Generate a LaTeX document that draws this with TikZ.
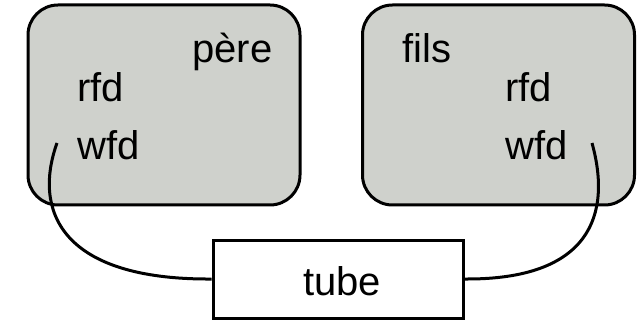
\documentclass[tikz,border=0pt]{standalone}
\usepackage{fontspec}
\setmainfont{Liberation Sans}
\begin{document}
\begin{tikzpicture}[x=1pt,y=-1pt,
  proc/.style={draw=black,line width=3pt,fill=procgray,rounded corners=30pt,minimum width=272pt,minimum height=200pt,inner sep=0pt},
  tubebox/.style={draw=black,line width=3pt,fill=white,minimum width=250pt,minimum height=78pt,inner sep=0pt},
  lbl/.style={font=\fontsize{40}{44}\selectfont,anchor=base west,inner sep=0pt},
  wire/.style={draw=black,line width=3pt}]
\definecolor{procgray}{HTML}{CFD1CC}
\useasboundingbox (0,0) rectangle (639,320);
\node[proc] (pere) at (164,105) {};
\node[proc] (fils) at (498.5,105) {};
\node[tubebox] (tube) at (338,279) {};
\node[lbl] (tpere) at (192,63) {père};
\node[lbl] (prfd) at (77,102) {rfd};
\node[lbl] (pwfd) at (77,160) {wfd};
\node[lbl] (tfils) at (402,63) {fils};
\node[lbl] (frfd) at (505,102) {rfd};
\node[lbl] (fwfd) at (505,160) {wfd};
\node[font=\fontsize{40}{44}\selectfont,anchor=base,inner sep=0pt] (ttube) at (342,295) {tube};
\coordinate (lw) at (57,143);
\coordinate (rw) at (592,143);
\draw[wire] (lw) .. controls (33,210) and (60,280) .. (tube.west);
\draw[wire] (rw) .. controls (612,215) and (590,280) .. (tube.east);
\end{tikzpicture}
\end{document}
